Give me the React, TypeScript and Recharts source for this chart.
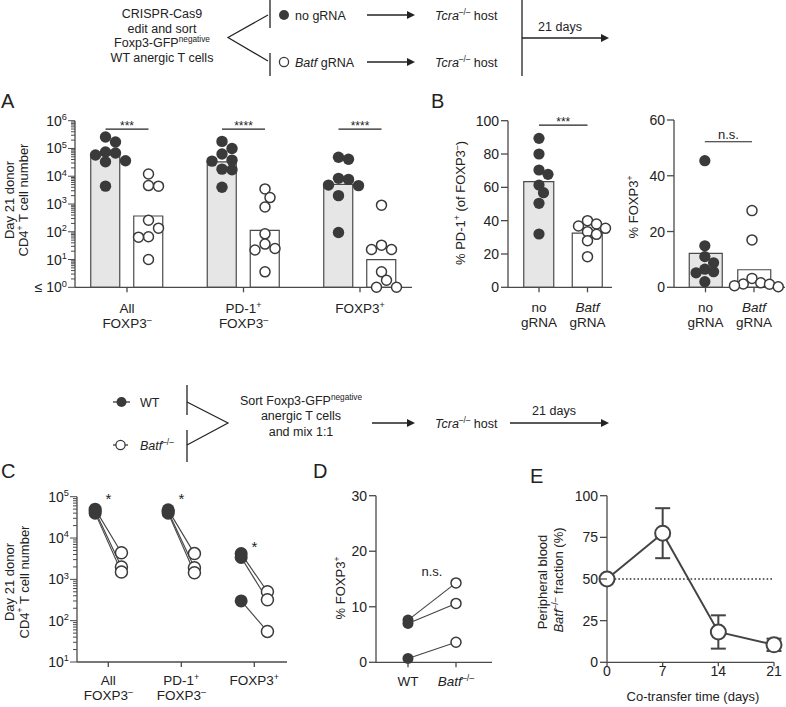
import React from 'react';
import { ComposedChart, Bar, Cell, Scatter, Line, XAxis, YAxis, ReferenceLine, ErrorBar } from 'recharts';

const W = 786;
const H = 707;
const FONT = '"Liberation Sans", Arial, Helvetica, sans-serif';
const INK = '#222222';
const AXIS = '#4a4a4a';
const DOT = '#3a3a3a';
const LINE = '#444444';
const BAR_FILL = '#e6e6e6';

// ---------------- Panel A data ----------------
const aCategories = ['All|FOXP3^{–}', 'PD-1^{+}|FOXP3^{–}', 'FOXP3^{+}'];
const aNoGrnaBars = [5.9e4, 3.3e4, 5.1e3];
const aBatfBars = [370, 112, 10];
const aNoGrnaAll = [2.6e5, 1.7e5, 7.5e4, 6.9e4, 5.8e4, 3.6e4, 3.3e4, 4.4e3];
const aBatfAll = [1.2e4, 4.6e3, 4.4e3, 260, 135, 66, 64, 10];
const aNoGrnaPd1 = [1.8e5, 1.0e5, 6.3e4, 3.8e4, 3.5e4, 1.8e4, 1.7e4, 4.0e3];
const aBatfPd1 = [3.5e3, 1.7e3, 780, 84, 36, 25, 22, 3.6];
const aNoGrnaFoxp3 = [4.8e4, 4.1e4, 8.4e3, 7.7e3, 4.8e3, 4.6e3, 2.0e3, 94];
const aBatfFoxp3 = [910, 33, 23, 23, 3.6, 1.8, 1, 1];
const aSignificance = ['***', '****', '****'];
const aSigLevel = 5e5;

// ---------------- Panel B data ----------------
const bCategories = ['no|gRNA', '_{Batf}|gRNA'];
const bPd1Bars = [63.4, 32.5];
const bPd1NoGrna = [89.4, 80, 70.4, 67.8, 61.4, 56.8, 50.4, 32];
const bPd1Batf = [40, 38, 36.8, 35.4, 33.4, 31.8, 28, 18.4];
const bPd1Sig = '***';
const bPd1SigLevel = 97.4;
const bFoxBars = [12.2, 6.3];
const bFoxNoGrna = [45.4, 14.9, 11, 8.8, 6.5, 5.6, 5.2, 2];
const bFoxBatf = [27.5, 17, 3.2, 1.6, 1.2, 1.1, 0.6, 0.2];
const bFoxSig = 'n.s.';
const bFoxSigLevel = 52.2;

// ---------------- Panel C data ----------------
const cCategories = ['All|FOXP3^{–}', 'PD-1^{+}|FOXP3^{–}', 'FOXP3^{+}'];
const cWtAll = [5.0e4, 4.5e4, 4.0e4];
const cBatfAll = [4.4e3, 2.0e3, 1.5e3];
const cWtPd1 = [4.8e4, 4.4e4, 4.0e4];
const cBatfPd1 = [4.2e3, 1.9e3, 1.45e3];
const cWtFoxp3 = [4.2e3, 3.4e3, 300];
const cBatfFoxp3 = [500, 320, 55];
const cStars = ['*', '*', '*'];
const cStarLevels = [6.6e4, 6.6e4, 4.6e3];

// ---------------- Panel D data ----------------
const dCategories = ['WT', '_{Batf}^{–/–}'];
const dWt = [7.6, 7.0, 0.7];
const dBatf = [14.3, 10.6, 3.6];
const dNs = 'n.s.';
const dNsLevel = 15.5;

// ---------------- Panel E data ----------------
const eDays = [0, 7, 14, 21];
const eFraction = [50, 77.5, 18.2, 10.5];
const eSem = [0, 15, 10, 3.7];
const eReference = 50;

// ---------------- tick values ----------------
const bPd1TicksY = [0, 20, 40, 60, 80, 100];
const bFoxTicksY = [0, 20, 40, 60];
const dTicksY = [0, 10, 20, 30];
const eTicksY = [0, 25, 50, 75, 100];
const eTicksX = [0, 7, 14, 21];

// ---------------- layout ----------------
const PA = { left: 75, top: 120.7, right: 412, bottom: 287.3 };
const PB1 = { left: 508, top: 120.7, right: 612, bottom: 287.3 };
const PB2 = { left: 674, top: 120, right: 785, bottom: 287.3 };
const PC = { left: 77, top: 496.7, right: 287, bottom: 662 };
const PD = { left: 376, top: 495.7, right: 492, bottom: 662.3 };
const PE = { left: 607, top: 495.7, right: 774, bottom: 662.3 };

type Rect = { left: number; top: number; right: number; bottom: number };
const marginFor = (p: Rect, yW: number, xH: number) => ({
  top: p.top,
  left: p.left - yW,
  right: W - p.right,
  bottom: H - p.bottom - xH,
});

const axisStyle = { stroke: AXIS, strokeWidth: 1.3 };

// ---------------- rich text ----------------
function parseRich(s: string) {
  const parts: { t: string; sup?: boolean; it?: boolean }[] = [];
  const re = /\^\{([^}]*)\}|_\{([^}]*)\}|([^^_]+)/g;
  let m: RegExpExecArray | null;
  while ((m = re.exec(s))) {
    if (m[1] !== undefined) parts.push({ t: m[1], sup: true });
    else if (m[2] !== undefined) parts.push({ t: m[2], it: true });
    else parts.push({ t: m[3] });
  }
  return parts;
}

function Rich(props: {
  x: number; y: number; text: string; size: number; anchor?: string; rotate?: number; fill?: string;
}) {
  const { x, y, text, size, anchor = 'start', rotate, fill = INK } = props;
  const parts = parseRich(text);
  const up = size * 0.4;
  let raised = false;
  const spans = parts.map((p, i) => {
    let dy = 0;
    if (p.sup && !raised) { dy = -up; raised = true; }
    else if (!p.sup && raised) { dy = up; raised = false; }
    return (
      <tspan key={i} dy={dy || undefined} fontSize={p.sup ? size * 0.66 : undefined} fontStyle={p.it ? 'italic' : undefined}>
        {p.t}
      </tspan>
    );
  });
  return (
    <text
      x={x}
      y={y}
      fontSize={size}
      textAnchor={anchor as any}
      fill={fill}
      fontFamily={FONT}
      style={{ whiteSpace: 'pre' }}
      transform={rotate ? `rotate(${rotate} ${x} ${y})` : undefined}
    >
      {spans}
    </text>
  );
}

// ---------------- helpers ----------------
function logTicks(minExp: number, maxExp: number) {
  const t: number[] = [];
  for (let e = minExp; e < maxExp; e++) for (let m = 1; m <= 9; m++) t.push(m * Math.pow(10, e));
  t.push(Math.pow(10, maxExp));
  return t;
}

function swarm(vals: number[], toPx: (v: number) => number, minDist: number, step: number) {
  const order = vals.map((_, i) => i).sort((a, b) => vals[b] - vals[a]);
  const placed: { x: number; y: number }[] = [];
  const out = new Array(vals.length).fill(0);
  for (const i of order) {
    const y = toPx(vals[i]);
    let chosen = 0;
    for (let k = 0; k < 60; k++) {
      const cand = k === 0 ? 0 : (k % 2 ? 1 : -1) * Math.ceil(k / 2) * step;
      if (placed.every((p) => Math.hypot(p.x - cand, p.y - y) >= minDist)) { chosen = cand; break; }
    }
    placed.push({ x: chosen, y });
    out[i] = chosen;
  }
  return out;
}

const filledDot = (r: number) => (p: any) => <circle cx={p.cx} cy={p.cy} r={r} fill={DOT} />;
const openDot = (r: number, sw = 1.5) => (p: any) => (
  <circle cx={p.cx} cy={p.cy} r={r} fill="#ffffff" stroke={DOT} strokeWidth={sw} />
);
const textShape = (size: number) => (p: any) => (
  <text x={p.cx} y={p.cy} textAnchor="middle" fontSize={size} fill={INK} fontFamily={FONT}>
    {p.payload.label}
  </text>
);

const logTick = (minPrefix: string, minExp: number) => (p: any) => {
  const { x, y, payload } = p;
  const lg = Math.log10(payload.value);
  const e = Math.round(lg);
  const major = Math.abs(lg - e) < 1e-6;
  return (
    <g>
      <line x1={x - (major ? 7 : 4)} x2={x} y1={y} y2={y} stroke={AXIS} strokeWidth={1} />
      {major && (
        <Rich x={x - 8} y={y + 5} text={`${e === minExp ? minPrefix : ''}10^{${e}}`} size={14} anchor="end" />
      )}
    </g>
  );
};

const linTick = (p: any) => {
  const { x, y, payload } = p;
  return (
    <g>
      <line x1={x - 7} x2={x} y1={y} y2={y} stroke={AXIS} strokeWidth={1.3} />
      <Rich x={x - 9} y={y + 5} text={String(payload.value)} size={14} anchor="end" />
    </g>
  );
};

const xTick = (labelOf: (v: any) => string, b1: number, step: number, len = 5, size = 13.5) => (p: any) => {
  const { x, y, payload } = p;
  const lines = labelOf(payload.value).split('|');
  return (
    <g>
      <line x1={x} x2={x} y1={y} y2={y + len} stroke={AXIS} strokeWidth={1.3} />
      {lines.map((ln, i) => (
        <Rich key={i} x={x} y={y + b1 + i * step} text={ln} size={size} anchor="middle" />
      ))}
    </g>
  );
};

const Layer = ({ children }: { children: React.ReactNode }) => (
  <div style={{ position: 'absolute', left: 0, top: 0, width: W, height: H }}>{children}</div>
);

// ---------------- Panel A ----------------
const A_PAD = { left: -6.25, right: -6.25 };
const A_BAR = 29;
const A_GAP = 14;

function ChartA() {
  const rows = aCategories.map((c, i) => ({ name: c, no: aNoGrnaBars[i], batf: aBatfBars[i] }));
  const band = (PA.right - PA.left - A_PAD.left - A_PAD.right) / aCategories.length;
  const off = (A_BAR + A_GAP) / 2 / band;
  const toPx = (v: number) => PA.bottom - ((PA.bottom - PA.top) * Math.log10(Math.max(v, 1))) / 6;
  const mk = (groups: number[][], sign: number) =>
    groups.flatMap((vals, g) => {
      const j = swarm(vals, toPx, 9.5, 5);
      return vals.map((v, i) => ({ x: g + 0.5 + sign * off + j[i] / band, y: v }));
    });
  const noDots = mk([aNoGrnaAll, aNoGrnaPd1, aNoGrnaFoxp3], -1);
  const batfDots = mk([aBatfAll, aBatfPd1, aBatfFoxp3], 1);
  return (
    <ComposedChart width={W} height={H} data={rows} margin={marginFor(PA, 75, 40)} barGap={A_GAP}>
      <XAxis xAxisId="cat" dataKey="name" type="category" height={40} padding={A_PAD} axisLine={axisStyle}
        tickLine={false} tickSize={0} tickMargin={0} interval={0} tick={xTick((v) => v, 26, 15)} />
      <XAxis xAxisId="num" dataKey="x" type="number" domain={[0, aCategories.length]} hide padding={A_PAD} />
      <YAxis type="number" scale="log" domain={[1, 1e6]} ticks={logTicks(0, 6)} interval={0} width={75}
        axisLine={axisStyle} tickLine={false} tickSize={0} tickMargin={0} tick={logTick('≤ ', 0)} />
      <Bar xAxisId="cat" dataKey="no" barSize={A_BAR} fill={BAR_FILL} stroke={AXIS} strokeWidth={1.2} isAnimationActive={false} />
      <Bar xAxisId="cat" dataKey="batf" barSize={A_BAR} fill="#ffffff" stroke={AXIS} strokeWidth={1.2} isAnimationActive={false} />
      {aSignificance.map((s, g) => (
        <ReferenceLine key={g} xAxisId="num" ifOverflow="visible"
          segment={[{ x: g + 0.5 - off, y: aSigLevel }, { x: g + 0.5 + off, y: aSigLevel }]}
          stroke={INK} strokeWidth={1.2}
          label={{ value: s, position: 'top', offset: -1, fontSize: 12, fill: INK, fontFamily: FONT }} />
      ))}
      <Scatter xAxisId="num" data={noDots} dataKey="y" shape={filledDot(5.7)} isAnimationActive={false} />
      <Scatter xAxisId="num" data={batfDots} dataKey="y" shape={openDot(5)} isAnimationActive={false} />
    </ComposedChart>
  );
}

// ---------------- Panel B ----------------
function ChartB(props: {
  plot: Rect; pad: { left: number; right: number }; barSize: number; yMax: number; ticks: number[];
  bars: number[]; noVals: number[]; batfVals: number[]; sig: string; sigLevel: number; sigSize: number; sigOffset: number;
}) {
  const { plot, pad, barSize, yMax, ticks, bars, noVals, batfVals, sig, sigLevel, sigSize, sigOffset } = props;
  const rows = bCategories.map((c, i) => ({ name: c, value: bars[i] }));
  const band = (plot.right - plot.left - pad.left - pad.right) / bCategories.length;
  const toPx = (v: number) => plot.bottom - ((plot.bottom - plot.top) * v) / yMax;
  const mk = (vals: number[], g: number) => {
    const j = swarm(vals, toPx, 8.5, 4.5);
    return vals.map((v, i) => ({ x: g + 0.5 + j[i] / band, y: v }));
  };
  return (
    <ComposedChart width={W} height={H} data={rows} margin={marginFor(plot, 60, 40)}>
      <XAxis xAxisId="cat" dataKey="name" type="category" height={40} padding={pad} axisLine={axisStyle}
        tickLine={false} tickSize={0} tickMargin={0} interval={0} tick={xTick((v) => v, 25, 15)} />
      <XAxis xAxisId="num" dataKey="x" type="number" domain={[0, bCategories.length]} hide padding={pad} />
      <YAxis type="number" domain={[0, yMax]} ticks={ticks} interval={0} width={60}
        axisLine={axisStyle} tickLine={false} tickSize={0} tickMargin={0} tick={linTick} />
      <Bar xAxisId="cat" dataKey="value" barSize={barSize} stroke={AXIS} strokeWidth={1.2} isAnimationActive={false}>
        {rows.map((_, i) => (
          <Cell key={i} fill={i === 0 ? BAR_FILL : '#ffffff'} />
        ))}
      </Bar>
      <ReferenceLine xAxisId="num" ifOverflow="visible"
        segment={[{ x: 0.5, y: sigLevel }, { x: 1.5, y: sigLevel }]} stroke={INK} strokeWidth={1.2}
        label={{ value: sig, position: 'top', offset: sigOffset, fontSize: sigSize, fill: INK, fontFamily: FONT }} />
      <Scatter xAxisId="num" data={mk(noVals, 0)} dataKey="y" shape={filledDot(5.6)} isAnimationActive={false} />
      <Scatter xAxisId="num" data={mk(batfVals, 1)} dataKey="y" shape={openDot(5)} isAnimationActive={false} />
    </ComposedChart>
  );
}

// ---------------- Panel C ----------------
const C_FIRST_PX = 108.3;
const C_STEP_PX = 73;
const C_OFF = 0.18;

function ChartC() {
  const domain = [-(C_FIRST_PX - PC.left) / C_STEP_PX, (PC.right - C_FIRST_PX) / C_STEP_PX];
  const wt = [cWtAll, cWtPd1, cWtFoxp3];
  const batf = [cBatfAll, cBatfPd1, cBatfFoxp3];
  const pairs = wt.flatMap((vals, g) =>
    vals.map((v, r) => [{ x: g - C_OFF, y: v }, { x: g + C_OFF, y: batf[g][r] }])
  );
  const wtDots = wt.flatMap((vals, g) => vals.map((v) => ({ x: g - C_OFF, y: v })));
  const batfDots = batf.flatMap((vals, g) => vals.map((v) => ({ x: g + C_OFF, y: v })));
  const stars = cStars.map((s, g) => ({ x: g, y: cStarLevels[g], label: s }));
  return (
    <ComposedChart width={W} height={H} margin={marginFor(PC, 77, 40)}>
      <XAxis dataKey="x" type="number" domain={domain} ticks={[0, 1, 2]} interval={0} height={40}
        axisLine={axisStyle} tickLine={false} tickSize={0} tickMargin={0}
        tick={xTick((v) => cCategories[v], 23, 15)} />
      <YAxis type="number" scale="log" domain={[10, 1e5]} ticks={logTicks(1, 5)} interval={0} width={77}
        axisLine={axisStyle} tickLine={false} tickSize={0} tickMargin={0} tick={logTick('', 1)} />
      {pairs.map((pr, i) => (
        <Line key={i} data={pr} dataKey="y" stroke={LINE} strokeWidth={1.1} dot={false} isAnimationActive={false} />
      ))}
      <Scatter data={wtDots} dataKey="y" shape={filledDot(6.5)} isAnimationActive={false} />
      <Scatter data={batfDots} dataKey="y" shape={openDot(6, 1.5)} isAnimationActive={false} />
      <Scatter data={stars} dataKey="y" shape={textShape(15)} isAnimationActive={false} />
    </ComposedChart>
  );
}

// ---------------- Panel D ----------------
const D_PAD = { left: 32, right: 36 };

function ChartD() {
  const pairs = dWt.map((v, r) => [{ x: 0, y: v }, { x: 1, y: dBatf[r] }]);
  const wtDots = dWt.map((v) => ({ x: 0, y: v }));
  const batfDots = dBatf.map((v) => ({ x: 1, y: v }));
  return (
    <ComposedChart width={W} height={H} margin={marginFor(PD, 60, 40)}>
      <XAxis dataKey="x" type="number" domain={[0, 1]} ticks={[0, 1]} interval={0} height={40} padding={D_PAD}
        axisLine={axisStyle} tickLine={false} tickSize={0} tickMargin={0}
        tick={xTick((v) => dCategories[v], 24, 15)} />
      <YAxis type="number" domain={[0, 30]} ticks={dTicksY} interval={0} width={60}
        axisLine={axisStyle} tickLine={false} tickSize={0} tickMargin={0} tick={linTick} />
      {pairs.map((pr, i) => (
        <Line key={i} data={pr} dataKey="y" stroke={LINE} strokeWidth={1.1} dot={false} isAnimationActive={false} />
      ))}
      <Scatter data={wtDots} dataKey="y" shape={filledDot(5.5)} isAnimationActive={false} />
      <Scatter data={batfDots} dataKey="y" shape={openDot(5, 1.5)} isAnimationActive={false} />
      <Scatter data={[{ x: 0.5, y: dNsLevel, label: dNs }]} dataKey="y" shape={textShape(13)} isAnimationActive={false} />
    </ComposedChart>
  );
}

// ---------------- Panel E ----------------
function ChartE() {
  const rows = eDays.map((d, i) => ({ x: d, y: eFraction[i], err: eSem[i] }));
  return (
    <ComposedChart width={W} height={H} data={rows} margin={marginFor(PE, 70, 40)}>
      <XAxis dataKey="x" type="number" domain={[0, 21]} ticks={eTicksX} interval={0} height={40}
        axisLine={axisStyle} tickLine={false} tickSize={0} tickMargin={0}
        tick={xTick((v) => String(v), 13.5, 15, 4, 14)} />
      <YAxis type="number" domain={[0, 100]} ticks={eTicksY} interval={0} width={70}
        axisLine={axisStyle} tickLine={false} tickSize={0} tickMargin={0} tick={linTick} />
      <ReferenceLine y={eReference} stroke="#333333" strokeWidth={1.6} strokeDasharray="1.6 2.2" />
      <Line dataKey="y" stroke={LINE} strokeWidth={2} isAnimationActive={false}
        dot={(p: any) => (
          <circle key={`e${p.index}`} cx={p.cx} cy={p.cy} r={7.5} fill="#ffffff" stroke={LINE} strokeWidth={2} />
        )}>
        <ErrorBar dataKey="err" width={7.5} stroke={LINE} strokeWidth={2} direction="y" />
      </Line>
    </ComposedChart>
  );
}

// ---------------- diagrams, titles, letters ----------------
function Arrow({ x1, x2, y }: { x1: number; x2: number; y: number }) {
  return (
    <g>
      <line x1={x1} x2={x2 - 6} y1={y} y2={y} stroke={INK} strokeWidth={1.3} />
      <polygon points={`${x2},${y} ${x2 - 8},${y - 4} ${x2 - 8},${y + 4}`} fill={INK} />
    </g>
  );
}

function Overlay() {
  const fs = 12.5;
  const ttl = 13;
  return (
    <svg width={W} height={H} style={{ position: 'absolute', left: 0, top: 0 }}>
      {/* top schematic */}
      <Rich x={162} y={18} text="CRISPR-Cas9" size={fs} anchor="middle" />
      <Rich x={162} y={32.5} text="edit and sort" size={fs} anchor="middle" />
      <Rich x={162} y={47} text="Foxp3-GFP^{negative}" size={fs} anchor="middle" />
      <Rich x={162} y={61.5} text="WT anergic T cells" size={fs} anchor="middle" />
      <polyline points="268,15 228,37.5 268,61" fill="none" stroke={INK} strokeWidth={1.2} />
      <line x1={270} x2={270} y1={0} y2={28} stroke={INK} strokeWidth={1.3} />
      <line x1={270} x2={270} y1={53} y2={76} stroke={INK} strokeWidth={1.3} />
      <circle cx={284} cy={15} r={5} fill={DOT} />
      <Rich x={295} y={19.5} text="no gRNA" size={fs} />
      <circle cx={284} cy={62} r={4.6} fill="#fff" stroke={DOT} strokeWidth={1.3} />
      <Rich x={295} y={66.5} text="_{Batf} gRNA" size={fs} />
      <Arrow x1={367} x2={415} y={15} />
      <Arrow x1={367} x2={415} y={62} />
      <Rich x={435} y={19.5} text="_{Tcra}^{–/–} host" size={fs} />
      <Rich x={435} y={66.5} text="_{Tcra}^{–/–} host" size={fs} />
      <line x1={522} x2={522} y1={0} y2={76} stroke={INK} strokeWidth={1.3} />
      <Rich x={560} y={31} text="21 days" size={fs} anchor="middle" />
      <Arrow x1={522} x2={609} y={38} />

      {/* middle schematic */}
      <line x1={113} x2={130} y1={402} y2={402} stroke={DOT} strokeWidth={1.3} />
      <circle cx={121.5} cy={402} r={5} fill={DOT} />
      <Rich x={140} y={406.5} text="WT" size={fs} />
      <line x1={113} x2={128} y1={445} y2={445} stroke={DOT} strokeWidth={1.3} />
      <circle cx={120.5} cy={445} r={4.6} fill="#fff" stroke={DOT} strokeWidth={1.3} />
      <Rich x={140} y={449.5} text="_{Batf}^{–/–}" size={fs} />
      <line x1={187} x2={187} y1={385} y2={415} stroke={INK} strokeWidth={1.3} />
      <line x1={187} x2={187} y1={430} y2={462} stroke={INK} strokeWidth={1.3} />
      <polyline points="187,402 228,423 187,445" fill="none" stroke={INK} strokeWidth={1.2} />
      <Rich x={301} y={404.5} text="Sort Foxp3-GFP^{negative}" size={fs} anchor="middle" />
      <Rich x={301} y={420} text="anergic T cells" size={fs} anchor="middle" />
      <Rich x={301} y={436} text="and mix 1:1" size={fs} anchor="middle" />
      <Arrow x1={372} x2={415} y={423} />
      <Rich x={435} y={427.5} text="_{Tcra}^{–/–} host" size={fs} />
      <Rich x={554} y={415} text="21 days" size={fs} anchor="middle" />
      <Arrow x1={510} x2={609} y={423} />

      {/* panel letters */}
      <Rich x={1} y={108} text="A" size={20} />
      <Rich x={431} y={108} text="B" size={20} />
      <Rich x={1} y={478} text="C" size={20} />
      <Rich x={313} y={478} text="D" size={20} />
      <Rich x={530} y={483} text="E" size={20} />

      {/* axis titles */}
      <Rich x={13.5} y={200} text="Day 21 donor" size={ttl} anchor="middle" rotate={-90} />
      <Rich x={28} y={200} text="CD4^{+} T cell number" size={ttl} anchor="middle" rotate={-90} />
      <Rich x={465} y={203} text="% PD-1^{+} (of FOXP3^{–})" size={ttl} anchor="middle" rotate={-90} />
      <Rich x={638} y={207} text="% FOXP3^{+}" size={ttl} anchor="middle" rotate={-90} />
      <Rich x={14} y={582} text="Day 21 donor" size={ttl} anchor="middle" rotate={-90} />
      <Rich x={28.5} y={582} text="CD4^{+} T cell number" size={ttl} anchor="middle" rotate={-90} />
      <Rich x={345} y={588} text="% FOXP3^{+}" size={ttl} anchor="middle" rotate={-90} />
      <Rich x={547} y={582} text="Peripheral blood" size={ttl} anchor="middle" rotate={-90} />
      <Rich x={563} y={580} text="_{Batf}^{–/–} fraction (%)" size={ttl} anchor="middle" rotate={-90} />
      <Rich x={693} y={701} text="Co-transfer time (days)" size={ttl} anchor="middle" />
    </svg>
  );
}

export default function App() {
  return (
    <div style={{ position: 'absolute', left: 0, top: 0, width: W, height: H, background: '#ffffff', fontFamily: FONT }}>
      <Layer><ChartA /></Layer>
      <Layer>
        <ChartB plot={PB1} pad={{ left: 6.75, right: 0.25 }} barSize={30} yMax={100} ticks={bPd1TicksY}
          bars={bPd1Bars} noVals={bPd1NoGrna} batfVals={bPd1Batf} sig={bPd1Sig} sigLevel={bPd1SigLevel} sigSize={12} sigOffset={-1} />
      </Layer>
      <Layer>
        <ChartB plot={PB2} pad={{ left: 7.25, right: 6.75 }} barSize={33} yMax={60} ticks={bFoxTicksY}
          bars={bFoxBars} noVals={bFoxNoGrna} batfVals={bFoxBatf} sig={bFoxSig} sigLevel={bFoxSigLevel} sigSize={13} sigOffset={3} />
      </Layer>
      <Layer><ChartC /></Layer>
      <Layer><ChartD /></Layer>
      <Layer><ChartE /></Layer>
      <Overlay />
    </div>
  );
}
